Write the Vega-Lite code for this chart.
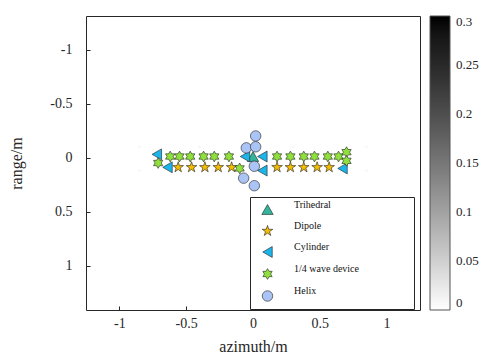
{
  "$schema": "https://vega.github.io/schema/vega-lite/v6.json",
  "width": 334,
  "height": 294,
  "autosize": {"type": "none"},
  "padding": {"left": 86, "top": 16, "right": 83, "bottom": 50},
  "background": "white",
  "config": {
    "view": {"stroke": "#262626", "strokeWidth": 1},
    "font": "Liberation Serif",
    "axis": {
      "grid": false,
      "domain": false,
      "offset": -4,
      "tickSize": 4,
      "tickColor": "#262626",
      "labelColor": "#262626",
      "titleColor": "#262626",
      "labelFont": "Liberation Serif",
      "titleFont": "Liberation Serif",
      "labelFontSize": 14,
      "titleFontSize": 16,
      "titleFontWeight": "normal",
      "labelExpr": "'' + datum.value"
    }
  },
  "datasets": {
    "targets": [
      {"type": "Trihedral", "x": 0.0, "y": -0.01},
      {"type": "Dipole", "x": -0.56, "y": 0.09},
      {"type": "Dipole", "x": -0.46, "y": 0.09},
      {"type": "Dipole", "x": -0.36, "y": 0.09},
      {"type": "Dipole", "x": -0.26, "y": 0.09},
      {"type": "Dipole", "x": -0.16, "y": 0.09},
      {"type": "Dipole", "x": 0.18, "y": 0.09},
      {"type": "Dipole", "x": 0.28, "y": 0.09},
      {"type": "Dipole", "x": 0.38, "y": 0.09},
      {"type": "Dipole", "x": 0.48, "y": 0.09},
      {"type": "Dipole", "x": 0.57, "y": 0.09},
      {"type": "Cylinder", "x": -0.72, "y": -0.03},
      {"type": "Cylinder", "x": -0.64, "y": 0.09},
      {"type": "Cylinder", "x": -0.06, "y": -0.01},
      {"type": "Cylinder", "x": 0.07, "y": -0.01},
      {"type": "Cylinder", "x": 0.07, "y": 0.12},
      {"type": "Cylinder", "x": 0.67, "y": 0.1},
      {"type": "1/4 wave device", "x": -0.62, "y": -0.01},
      {"type": "1/4 wave device", "x": -0.55, "y": -0.01},
      {"type": "1/4 wave device", "x": -0.47, "y": -0.01},
      {"type": "1/4 wave device", "x": -0.37, "y": -0.01},
      {"type": "1/4 wave device", "x": -0.29, "y": -0.01},
      {"type": "1/4 wave device", "x": -0.18, "y": -0.01},
      {"type": "1/4 wave device", "x": 0.18, "y": -0.01},
      {"type": "1/4 wave device", "x": 0.28, "y": -0.01},
      {"type": "1/4 wave device", "x": 0.38, "y": -0.01},
      {"type": "1/4 wave device", "x": 0.46, "y": -0.01},
      {"type": "1/4 wave device", "x": 0.56, "y": -0.01},
      {"type": "1/4 wave device", "x": 0.64, "y": -0.01},
      {"type": "1/4 wave device", "x": 0.7, "y": -0.05},
      {"type": "1/4 wave device", "x": 0.7, "y": 0.03},
      {"type": "1/4 wave device", "x": -0.71, "y": 0.05},
      {"type": "1/4 wave device", "x": -0.1, "y": 0.1},
      {"type": "Helix", "x": 0.02, "y": -0.2},
      {"type": "Helix", "x": -0.05, "y": -0.09},
      {"type": "Helix", "x": 0.02, "y": -0.1},
      {"type": "Helix", "x": 0.01, "y": 0.08},
      {"type": "Helix", "x": -0.07, "y": 0.19},
      {"type": "Helix", "x": 0.01, "y": 0.26}
    ],
    "image": [
      {"x": -0.85, "y": -0.1, "v": 0.01},
      {"x": -0.4, "y": -0.1, "v": 0.01},
      {"x": 0.3, "y": -0.1, "v": 0.01},
      {"x": 0.85, "y": -0.1, "v": 0.01},
      {"x": -0.85, "y": 0.12, "v": 0.01},
      {"x": -0.3, "y": 0.12, "v": 0.01},
      {"x": 0.4, "y": 0.12, "v": 0.01},
      {"x": 0.85, "y": 0.12, "v": 0.01}
    ]
  },
  "layer": [
    {
      "data": {"name": "image"},
      "mark": {"type": "square", "size": 5, "opacity": 1},
      "encoding": {
        "x": {"field": "x", "type": "quantitative", "scale": {"domain": [-1.25, 1.25], "nice": false, "zero": false},
              "axis": {"values": [-1, -0.5, 0, 0.5, 1], "title": "azimuth/m", "labelPadding": 6, "titlePadding": 8}},
        "y": {"field": "y", "type": "quantitative", "scale": {"domain": [-1.31, 1.41], "nice": false, "zero": false, "reverse": true},
              "axis": {"values": [-1, -0.5, 0, 0.5, 1], "title": "range/m", "labelPadding": 14, "titlePadding": 25}},
        "color": {"field": "v", "type": "quantitative",
                  "scale": {"domain": [0, 0.3], "range": ["#ffffff", "#000000"]},
                  "legend": {"orient": "none", "legendX": 344, "legendY": 0, "title": null,
                             "direction": "vertical", "gradientLength": 294, "gradientThickness": 20,
                             "values": [0, 0.05, 0.1, 0.15, 0.2, 0.25, 0.3], "format": ".2~f",
                             "labelFont": "Liberation Serif", "labelFontSize": 13, "labelColor": "#262626",
                             "gradientStrokeColor": "#555", "gradientStrokeWidth": 1, "labelOffset": 6}}
      }
    },
    {
      "data": {"name": "targets"},
      "mark": {"type": "point", "filled": true, "stroke": "#222222", "strokeWidth": 0.6, "opacity": 1},
      "encoding": {
        "x": {"field": "x", "type": "quantitative"},
        "y": {"field": "y", "type": "quantitative"},
        "fill": {"field": "type", "type": "nominal",
                 "scale": {"domain": ["Trihedral", "Dipole", "Cylinder", "1/4 wave device", "Helix"],
                           "range": ["#33b59b", "#f5bd00", "#1cb5ea", "#8fe03c", "#aac4f5"]},
                 "legend": {"orient": "none", "legendX": 164, "legendY": 181, "title": null,
                            "fillColor": "white", "strokeColor": "#262626", "padding": 6, "rowPadding": 5,
                            "symbolOffset": 5, "labelOffset": 20, "labelBaseline": "bottom",
                            "labelFont": "Liberation Serif", "labelFontSize": 10, "labelColor": "#111",
                            "symbolStrokeColor": "#222222", "symbolStrokeWidth": 0.6,
                            "labelExpr": "datum.label + '\u2800\u2800\u2800\u2800\u2800\u2800\u2800'"}},
        "shape": {"field": "type", "type": "nominal",
                  "scale": {"domain": ["Trihedral", "Dipole", "Cylinder", "1/4 wave device", "Helix"],
                            "range": ["triangle-up",
                                      "M0,-1L0.2245,-0.309L0.951,-0.309L0.363,0.118L0.588,0.809L0,0.382L-0.588,0.809L-0.363,0.118L-0.951,-0.309L-0.2245,-0.309Z",
                                      "triangle-left",
                                      "M0,-1L0.2887,-0.5L0.866,-0.5L0.577,0L0.866,0.5L0.2887,0.5L0,1L-0.2887,0.5L-0.866,0.5L-0.577,0L-0.866,-0.5L-0.2887,-0.5Z",
                                      "circle"]}},
        "size": {"field": "type", "type": "nominal",
                 "scale": {"domain": ["Trihedral", "Dipole", "Cylinder", "1/4 wave device", "Helix"],
                           "range": [130, 110, 150, 110, 160]}}
      }
    }
  ]
}
